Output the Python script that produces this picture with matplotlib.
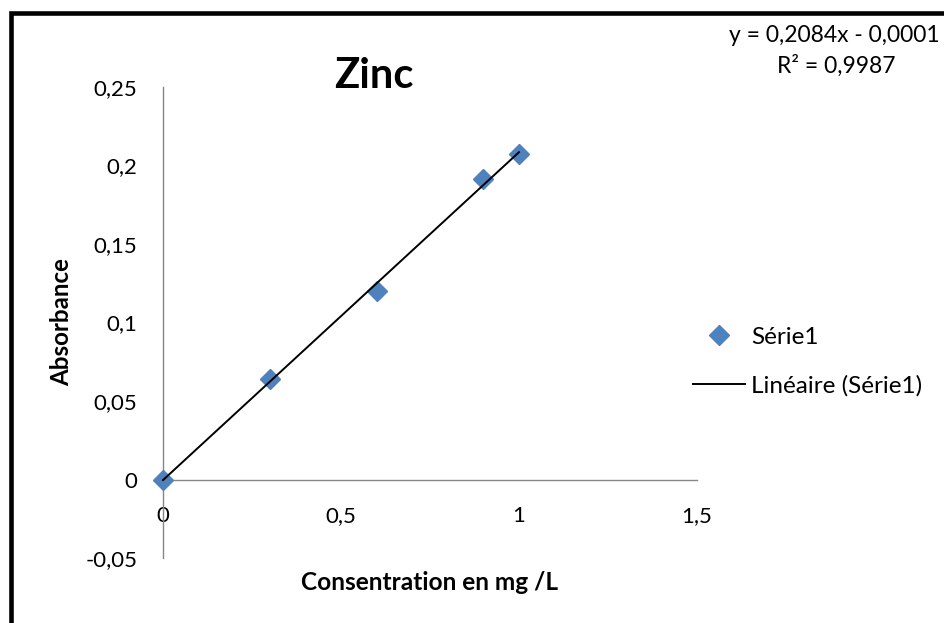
import numpy as np
import matplotlib
matplotlib.use("Agg")
import matplotlib.pyplot as plt
from matplotlib.patches import Rectangle

# ---- data ----
conc = [0.0, 0.3, 0.6, 0.9, 1.0]
absorb = [0.0, 0.064, 0.120, 0.1915, 0.2074]
x_ticks = [0, 0.5, 1, 1.5]
x_tick_labels = ["0", "0,5", "1", "1,5"]
y_ticks = [-0.05, 0, 0.05, 0.1, 0.15, 0.2, 0.25]
y_tick_labels = ["-0,05", "0", "0,05", "0,1", "0,15", "0,2", "0,25"]
title = "Zinc"
x_label = "Consentration en mg /L"
y_label = "Absorbance"
series_name = "Série1"
trend_name = "Linéaire (Série1)"
eq_text = "y = 0,2084x - 0,0001"
r2_text = "R² = 0,9987"

plt.rcParams['font.family'] = ['Lato', 'DejaVu Sans']
FS = 16

fig = plt.figure(figsize=(9.44, 6.23), dpi=100)
W, H = 944, 623
ax = fig.add_axes([163 / W, 1 - 558 / H, (697 - 163) / W, (558 - 87) / H])

blue = "#4F81BD"
grey = "#868686"

x = np.array(conc)
y = np.array(absorb)
ax.plot(x, y, ls="none", marker="D", ms=10, color=blue, mec=blue,
        label=series_name, zorder=3, clip_on=False)
fit = np.polyfit(x, y, 1)
xs = np.array([x.min(), x.max()])
ax.plot(xs, np.polyval(fit, xs), color="black", lw=1.4, label=trend_name,
        zorder=4, clip_on=False)

ax.set_xlim(0, 1.5)
ax.set_ylim(-0.05, 0.25)
ax.set_xticks(x_ticks)
ax.set_xticklabels(x_tick_labels)
ax.set_yticks(y_ticks)
ax.set_yticklabels(y_tick_labels)

for s in ["top", "right"]:
    ax.spines[s].set_visible(False)
ax.spines["bottom"].set_position(("data", 0))
ax.spines["left"].set_position(("data", 0))
for s in ["bottom", "left"]:
    ax.spines[s].set_color(grey)
    ax.spines[s].set_linewidth(1.0)
ax.tick_params(axis="x", length=0, pad=19, labelsize=FS)
ax.tick_params(axis="y", length=0, pad=18.5, labelsize=FS)
ax.patch.set_visible(False)

ax.set_xlabel(x_label, fontsize=17.6, fontweight="bold", va="center")
ax.xaxis.set_label_coords(0.5, (558 - 583) / 471)
ax.set_ylabel(y_label, fontsize=17.4, fontweight="bold", va="center")
ax.yaxis.set_label_coords((62 - 163) / 534, 0.5)

fig.text(374 / W, 1 - 88 / H, title, fontsize=30, fontweight="bold",
         ha="center", va="baseline")
fig.text(834 / W, 1 - 42 / H, eq_text, fontsize=16.5, ha="center", va="baseline")
fig.text(836 / W, 1 - 73 / H, r2_text, fontsize=16.5, ha="center", va="baseline")

LFS = 17.5
leg = ax.legend(loc="center left", bbox_to_anchor=(693 / W, 1 - 361.5 / H),
                bbox_transform=fig.transFigure, frameon=False, fontsize=LFS,
                handlelength=2.14, handletextpad=0.25, borderpad=0,
                borderaxespad=0, labelspacing=1.1, numpoints=1)

border = Rectangle((10.5 / W, -0.2), 2.0, 1.2 - 13 / H, transform=fig.transFigure,
                   fill=False, edgecolor="black", lw=3.3, clip_on=False)
fig.add_artist(border)

fig.savefig("out.png", dpi=100, facecolor="white")
